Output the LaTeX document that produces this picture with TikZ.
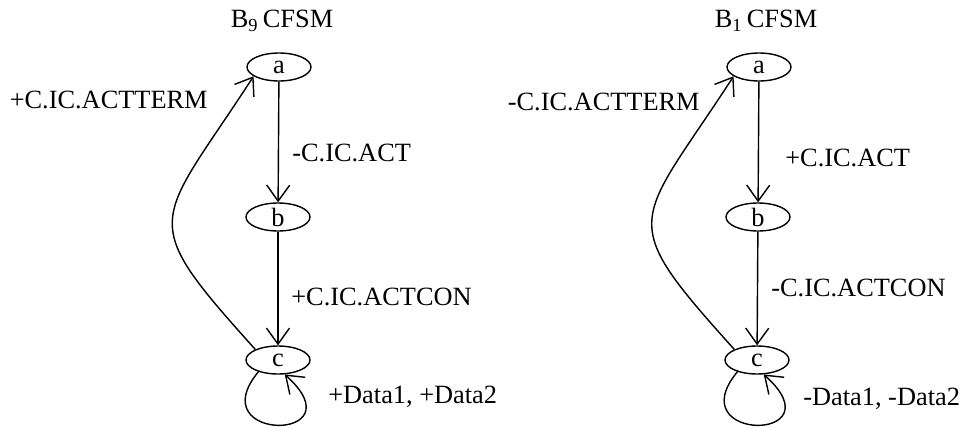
\documentclass[tikz,border=0pt]{standalone}
\usepackage{fontspec}
\setmainfont{Liberation Serif}
\usetikzlibrary{arrows.meta,positioning,shapes.geometric}

\tikzset{
	state/.style={draw, ellipse, line width=0.8pt,
		minimum width=1.28cm, minimum height=0.56cm, inner sep=0pt},
	trans/.style={line width=0.8pt,
		-{Straight Barb[length=3.2mm,width=4.6mm,line width=0.8pt]}},
	lbl/.style={inner sep=0pt}
}

\begin{document}
\begin{tikzpicture}[x=0.02cm,y=0.02cm,font=\fontsize{15}{18}\selectfont]
		
		\useasboundingbox
		(0,0)
		rectangle
		(964,427);
		
		% B9 machine
		\node (title9) at (282,406)
		{B\textsubscript{9}\,CFSM};
		
		\node[state] (a9) at (279,360) {a};
		\node[state] (b9) at (278,210) {b};
		\node[state] (c9) at (278,67) {c};
		
		\draw[trans] (a9) -- (b9);
		\draw[trans] (b9) -- (c9);
		
		\draw[trans]
		(c9.155)
		.. controls +(132:3.6cm) and +(-123:3.6cm) ..
		(a9.200);
		
		\draw[trans]
		(c9.-149)
		.. controls +(-59,-71) and +(76,-68) ..
		(c9.-65);
		
		\node[lbl,anchor=west] (act9) at (292,274)
		{-C.IC.ACT};
		
		\node[lbl,anchor=west] (con9) at (291,130)
		{+C.IC.ACTCON};
		
		\node[lbl,anchor=east] (term9) at (208,327)
		{+C.IC.ACTTERM};
		
		\node[lbl,anchor=west] (data9) at (328,30)
		{+Data1, +Data2};
		
		% B1 machine
		\node (title1) at (766,406)
		{B\textsubscript{1}\,CFSM};
		
		\node[state] (a1) at (759,360) {a};
		\node[state] (b1) at (758,210) {b};
		\node[state] (c1) at (757,67) {c};
		
		\draw[trans] (a1) -- (b1);
		\draw[trans] (b1) -- (c1);
		
		\draw[trans]
		(c1.155)
		.. controls +(132:3.6cm) and +(-123:3.6cm) ..
		(a1.200);
		
		\draw[trans]
		(c1.-149)
		.. controls +(-59,-71) and +(76,-68) ..
		(c1.-65);
		
		\node[lbl,anchor=west] (act1) at (785,269)
		{+C.IC.ACT};
		
		\node[lbl,anchor=west] (con1) at (771,139)
		{-C.IC.ACTCON};
		
		\node[lbl,anchor=east] (term1) at (700,325)
		{-C.IC.ACTTERM};
		
		\node[lbl,anchor=west] (data1) at (803,28)
		{-Data1, -Data2};
		
	\end{tikzpicture}
\end{document}
